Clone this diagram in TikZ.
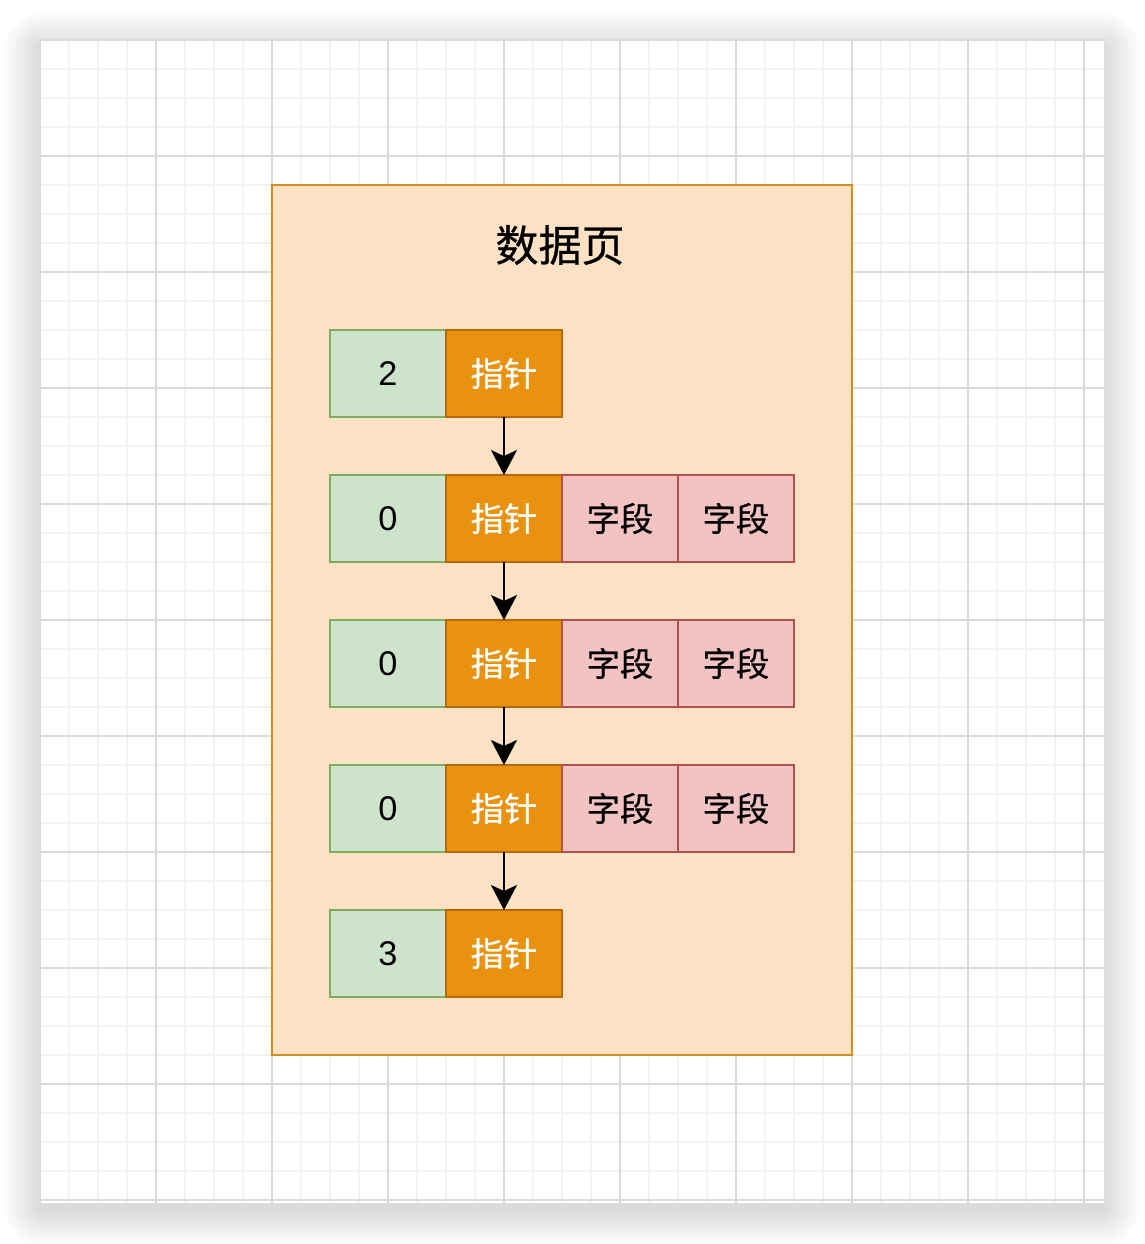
\documentclass[tikz,border=0pt]{standalone}
\usepackage{fontspec}
\setmainfont{Liberation Sans}
\newfontfamily\cjk{Noto Sans CJK SC}[FakeBold=0.6]
\usetikzlibrary{positioning,arrows.meta}
\definecolor{pagefill}{HTML}{FDE1C4}
\definecolor{pageline}{HTML}{D08F1C}
\definecolor{numfill}{HTML}{CEE3CC}
\definecolor{numline}{HTML}{7DAD5E}
\definecolor{ptrfill}{HTML}{E9920F}
\definecolor{ptrline}{HTML}{B26A0C}
\definecolor{fldfill}{HTML}{F3C2C2}
\definecolor{fldline}{HTML}{B4504C}
\definecolor{minorgrid}{HTML}{F2F2F2}
\definecolor{majorgrid}{HTML}{DADADA}

\begin{document}
\begin{tikzpicture}[x=0.02cm, y=-0.02cm, line width=1.6pt, >={Stealth[length=5mm,width=5.2mm,inset=1.2mm]},
	page/.style = {draw=pageline, fill=pagefill, minimum width=11.6cm, minimum height=17.4cm},
	cell/.style = {draw, minimum width=2.32cm, minimum height=1.74cm, inner sep=0pt, outer sep=0pt, font=\fontsize{19.5}{19.5}\selectfont},
	num/.style = {cell, fill=numfill, draw=numline},
	ptr/.style = {cell, fill=ptrfill, draw=ptrline, text=white, font=\cjk\fontsize{19}{19}\selectfont},
	fld/.style = {cell, fill=fldfill, draw=fldline, font=\cjk\fontsize{19}{19}\selectfont},
	minorline/.style = {draw=minorgrid, line width=0.6pt},
	majorline/.style = {draw=majorgrid, line width=0.6pt}]
\useasboundingbox (0,0) rectangle (1144,1244);
% shadow and grid sheet
\foreach \s in {1,...,36}
	\fill[black, opacity=0.005, rounded corners=\s*0.02cm] (40-\s,48-\s) rectangle (1104+\s,1210+\s);
\fill[white] (40,40) rectangle (1104,1203);
\foreach \k in {0,...,36}
	\draw[minorline] (40+29*\k,40) -- (40+29*\k,1203);
\foreach \k in {0,...,40}
	\draw[minorline] (40,40+29*\k) -- (1104,40+29*\k);
\foreach \k in {0,4,...,36}
	\draw[majorline] (40+29*\k,40) -- (40+29*\k,1203);
\foreach \k in {0,4,...,40}
	\draw[majorline] (40,40+29*\k) -- (1104,40+29*\k);
% data page
\node[page] (page) at (562,620) {};
\node[font=\cjk\fontsize{24.5}{24.5}\selectfont] (title) at (560,245) {数据页};
\node[num] (n1) at (388,373.5) {2};
\node[ptr] (p1) [right=0pt of n1] {指针};
\node[num] (n2) at (388,518.5) {0};
\node[ptr] (p2) [right=0pt of n2] {指针};
\node[fld] (fa2) [right=0pt of p2] {字段};
\node[fld] (fb2) [right=0pt of fa2] {字段};
\node[num] (n3) at (388,663.5) {0};
\node[ptr] (p3) [right=0pt of n3] {指针};
\node[fld] (fa3) [right=0pt of p3] {字段};
\node[fld] (fb3) [right=0pt of fa3] {字段};
\node[num] (n4) at (388,808.5) {0};
\node[ptr] (p4) [right=0pt of n4] {指针};
\node[fld] (fa4) [right=0pt of p4] {字段};
\node[fld] (fb4) [right=0pt of fa4] {字段};
\node[num] (n5) at (388,953.5) {3};
\node[ptr] (p5) [right=0pt of n5] {指针};
\draw[->] (p1) -- (p2);
\draw[->] (p2) -- (p3);
\draw[->] (p3) -- (p4);
\draw[->] (p4) -- (p5);
\end{tikzpicture}
\end{document}
